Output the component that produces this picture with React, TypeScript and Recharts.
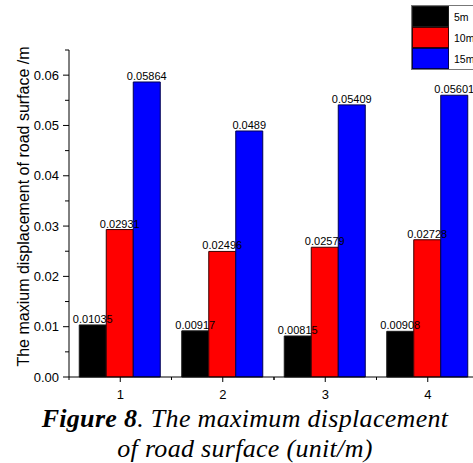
import React from "react";
import { BarChart, Bar, XAxis, YAxis, LabelList } from "recharts";

const categories = ["1", "2", "3", "4"];
const series5m = [0.01035, 0.00917, 0.00815, 0.00908];
const series10m = [0.02931, 0.02496, 0.02579, 0.02728];
const series15m = [0.05864, 0.0489, 0.05409, 0.05601];
const seriesNames = ["5m", "10m", "15m"];
const seriesColors = ["#000000", "#ff0000", "#0000ff"];
const seriesStrokes = ["#1a1a1a", "#3a0000", "#000050"];
const yTicks = [0, 0.005, 0.01, 0.015, 0.02, 0.025, 0.03, 0.035, 0.04, 0.045, 0.05, 0.055, 0.06, 0.065];
const yMajorTicks = [0, 0.01, 0.02, 0.03, 0.04, 0.05, 0.06];
const yLabel = "The maxium displacement of road surface /m";
const captionBold = "Figure 8";
const captionLine1 = ". The maximum displacement";
const captionLine2 = "of road surface (unit/m)";

const data = categories.map((c, i) => ({
  cat: c,
  s5: series5m[i],
  s10: series10m[i],
  s15: series15m[i],
}));
const keys = ["s5", "s10", "s15"];

const FONT = "'Liberation Sans', Arial, sans-serif";

const YTick = (props: any) => {
  const { x, y, payload } = props;
  const v = payload.value;
  const major = yMajorTicks.some((m) => Math.abs(m - v) < 1e-9);
  return (
    <g>
      <line x1={x - (major ? 6 : 4)} x2={x} y1={y} y2={y} stroke="#000" strokeWidth={1} />
      {major && (
        <text x={x - 10} y={y} dy="0.35em" textAnchor="end" fontSize={13} fontFamily={FONT} fill="#000">
          {v.toFixed(2)}
        </text>
      )}
    </g>
  );
};

const XTick = (props: any) => {
  const { x, y, payload, width, visibleTicksCount } = props;
  const half = width && visibleTicksCount ? width / visibleTicksCount / 2 : 51;
  return (
    <g>
      <line x1={x} x2={x} y1={y} y2={y + 5} stroke="#000" strokeWidth={1} />
      <line x1={x - half} x2={x - half} y1={y} y2={y + 3} stroke="#000" strokeWidth={1} />
      <line x1={x + half} x2={x + half} y1={y} y2={y + 3} stroke="#000" strokeWidth={1} />
      <text x={x} y={y + 22} textAnchor="middle" fontSize={13} fontFamily={FONT} fill="#000">
        {payload.value}
      </text>
    </g>
  );
};

const YTitle = (props: any) => {
  const vb = props.viewBox || { x: 0, y: 50, width: 69, height: 327 };
  const cx = vb.x + 29;
  const cy = vb.y + vb.height / 2 - 7;
  return (
    <text
      x={cx}
      y={cy}
      transform={`rotate(-90, ${cx}, ${cy})`}
      textAnchor="middle"
      fontSize={16}
      fontFamily={FONT}
      fill="#000"
    >
      {yLabel}
    </text>
  );
};

export default function App() {
  return (
    <div
      style={{
        position: "absolute",
        left: 0,
        top: 0,
        width: 473,
        height: 463,
        overflow: "hidden",
        background: "#fff",
      }}
    >
      <BarChart
        width={490}
        height={463}
        data={data}
        margin={{ top: 50, right: 11, left: 0, bottom: 56 }}
        barCategoryGap="10%"
        barGap={0}
      >
        <XAxis
          dataKey="cat"
          tick={<XTick />}
          tickLine={false}
          tickSize={0}
          tickMargin={0}
          height={30}
          axisLine={{ stroke: "#000", strokeWidth: 1 }}
          interval={0}
        />
        <YAxis
          width={69}
          domain={[0, 0.065]}
          ticks={yTicks}
          tick={<YTick />}
          tickLine={false}
          tickSize={0}
          tickMargin={0}
          axisLine={{ stroke: "#000", strokeWidth: 1 }}
          interval={0}
          label={{ content: <YTitle /> }}
        />
        {keys.map((k, i) => (
          <Bar
            key={k}
            dataKey={k}
            name={seriesNames[i]}
            fill={seriesColors[i]}
            stroke={seriesStrokes[i]}
            strokeWidth={1}
            isAnimationActive={false}
          >
            <LabelList
              dataKey={k}
              position="top"
              offset={2}
              fontSize={11}
              fontFamily={FONT}
              fill="#000"
              formatter={(v: any) => String(v)}
            />
          </Bar>
        ))}
      </BarChart>

      <div
        style={{
          position: "absolute",
          left: 411,
          top: 5,
          width: 80,
          border: "1px solid #777",
          borderRight: "none",
          background: "#fff",
        }}
      >
        {seriesNames.map((n, i) => (
          <div key={n} style={{ display: "flex", alignItems: "center", height: 21 }}>
            <div
              style={{
                width: 35,
                height: 19,
                background: seriesColors[i],
                border: `1px solid ${seriesStrokes[i]}`,
              }}
            />
            <span style={{ marginLeft: 5, fontSize: 10.5, fontFamily: FONT, color: "#000" }}>{n}</span>
          </div>
        ))}
      </div>

      <div
        style={{
          position: "absolute",
          left: 0,
          width: 490,
          top: 404,
          textAlign: "center",
          fontFamily: "'Liberation Serif', 'Times New Roman', serif",
          fontSize: 26,
          lineHeight: "30px",
          fontStyle: "italic",
          letterSpacing: 0.3,
          color: "#000",
        }}
      >
        <div>
          <b>{captionBold}</b>
          {captionLine1}
        </div>
        <div>{captionLine2}</div>
      </div>
    </div>
  );
}
